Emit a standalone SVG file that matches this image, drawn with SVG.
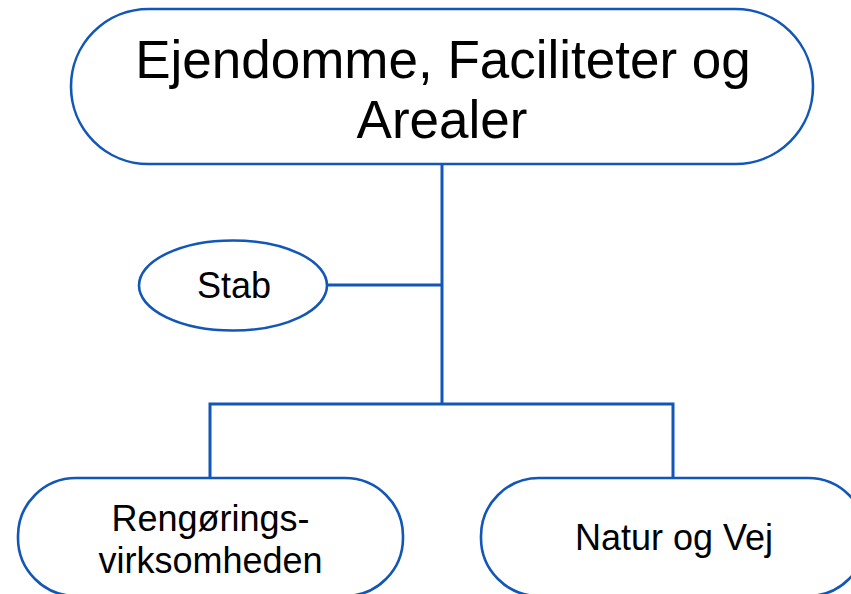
<svg xmlns="http://www.w3.org/2000/svg" width="851" height="594" viewBox="0 0 851 594">
<style>
.node{fill:#ffffff;stroke:#1257b8;stroke-width:2.6}
.conn{fill:none;stroke:#1257b8;stroke-width:3}
text{font-family:"Liberation Sans",Arial,sans-serif;fill:#000;text-anchor:middle}
.big{font-size:53px}
.small{font-size:36px}
</style>
<rect width="851" height="594" fill="#ffffff"/>
<g id="connectors">
<path class="conn" d="M442 164 V404"/>
<path class="conn" d="M327 285 H442"/>
<path class="conn" d="M210 478 V404 H673 V478"/>
</g>
<g id="node-top">
<rect class="node" x="71" y="9" width="742" height="155" rx="77.5" ry="77.5"/>
<text class="big" x="443" y="78">Ejendomme, Faciliteter og</text>
<text class="big" x="442" y="138">Arealer</text>
</g>
<g id="node-stab">
<ellipse class="node" cx="233" cy="285.5" rx="94" ry="45"/>
<text class="small" x="234" y="298">Stab</text>
</g>
<g id="node-rengoring">
<rect class="node" x="18" y="478" width="385" height="118" rx="58" ry="58"/>
<text class="small" x="210.5" y="531">Rengørings-</text>
<text class="small" x="210.5" y="573">virksomheden</text>
</g>
<g id="node-natur">
<rect class="node" x="481" y="478" width="385" height="118" rx="58" ry="58"/>
<text class="small" x="674" y="550">Natur og Vej</text>
</g>
</svg>
